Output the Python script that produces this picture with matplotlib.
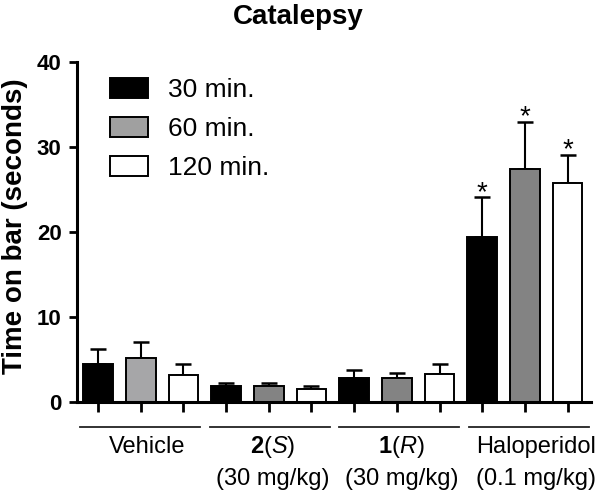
import matplotlib
matplotlib.use("Agg")
import matplotlib.pyplot as plt
from matplotlib.patches import Patch
import numpy as np

plt.rcParams['font.family'] = ['Liberation Sans', 'DejaVu Sans']
plt.rcParams['mathtext.fontset'] = 'custom'
plt.rcParams['mathtext.rm'] = 'Liberation Sans'
plt.rcParams['mathtext.it'] = 'Liberation Sans:italic'
plt.rcParams['mathtext.bf'] = 'Liberation Sans:bold'

# ---- data ----
groups = ["Vehicle", "2(S)", "1(R)", "Haloperidol"]
group_line1 = ["Vehicle", r"$\mathbf{2}\mathrm{(}\mathit{S}\mathrm{)}$",
               r"$\mathbf{1}\mathrm{(}\mathit{R}\mathrm{)}$", "Haloperidol"]
group_line2 = ["", "(30 mg/kg)", "(30 mg/kg)", "(0.1 mg/kg)"]
series = ["30 min.", "60 min.", "120 min."]
mean_30 = [4.4, 1.9, 2.8, 19.4]
mean_60 = [5.2, 1.9, 2.75, 27.4]
mean_120 = [3.2, 1.55, 3.3, 25.8]
top_30 = [6.2, 2.25, 3.7, 24.1]
top_60 = [7.0, 2.25, 3.45, 33.0]
top_120 = [4.4, 1.9, 4.45, 29.1]
signif = [False, False, False, True]
yticks = [0, 10, 20, 30, 40]

# ---- style ----
black = "#000000"
gray_vehicle = "#a6a6a8"
gray_other = "#838383"
gray_legend = "#a0a0a0"
white = "#ffffff"

fig = plt.figure(figsize=(6.0, 4.9), dpi=100)
ax = fig.add_axes([0.128, 0.180, 0.857, 0.693])

means = [mean_30, mean_60, mean_120]
tops = [top_30, top_60, top_120]
width = 0.69
positions = []
for gi in range(len(groups)):
    for si in range(3):
        positions.append(gi * 3 + si)

for si in range(3):
    xs = np.arange(len(groups)) * 3 + si
    if si == 0:
        colors = [black] * len(groups)
    elif si == 1:
        colors = [gray_vehicle] + [gray_other] * (len(groups) - 1)
    else:
        colors = [white] * len(groups)
    m = np.array(means[si])
    t = np.array(tops[si])
    ax.bar(xs, m, width=width, color=colors, edgecolor=black, linewidth=1.4, zorder=2)
    ax.errorbar(xs, m, yerr=[np.zeros_like(m), t - m], fmt='none', ecolor=black,
                elinewidth=1.5, capsize=5.5, capthick=1.8, zorder=1)
    for gi in range(len(groups)):
        if signif[gi]:
            ax.annotate("*", xy=(xs[gi], t[gi]), xytext=(0, -2.0), textcoords='offset points',
                        ha='center', va='baseline', fontsize=20, zorder=4)

ax.set_xlim(-0.5, 11.55)
ax.set_ylim(0, 40)
ax.set_yticks(yticks)
ax.set_yticklabels([str(v) for v in yticks], fontsize=16, fontweight='bold')
ax.set_xticks(positions)
ax.set_xticklabels([])
for s in ['top', 'right']:
    ax.spines[s].set_visible(False)
for s in ['left', 'bottom']:
    ax.spines[s].set_linewidth(2.2)
ax.tick_params(axis='y', direction='out', length=6, width=2, pad=5)
ax.tick_params(axis='x', direction='out', length=7, width=2)

ax.set_ylabel("Time on bar (seconds)", fontsize=20, fontweight='bold')
ax.yaxis.set_label_coords(-0.095, 0.516)

# group lines and labels
trans = ax.get_xaxis_transform()
line_centers = [0.98, 4.02, 7.06, 10.10]
text_centers = [1.16, 4.09, 7.11, 10.27]
for gi in range(len(groups)):
    c = line_centers[gi]
    ax.plot([c - 1.405, c + 1.405], [-0.073, -0.073], transform=trans, color='#222222',
            lw=1.3, clip_on=False)
    ax.text(text_centers[gi], -0.151, group_line1[gi], transform=trans, ha='center',
            va='baseline', fontsize=17)
    if group_line2[gi]:
        ax.text(text_centers[gi], -0.246, group_line2[gi], transform=trans, ha='center',
                va='baseline', fontsize=17)

# legend
handles = [Patch(facecolor=black, edgecolor=black, linewidth=1.4),
           Patch(facecolor=gray_legend, edgecolor=black, linewidth=1.4),
           Patch(facecolor=white, edgecolor=black, linewidth=1.4)]
ax.legend(handles, series, loc='upper left', bbox_to_anchor=(0.065, 0.953),
          frameon=False, fontsize=19, handlelength=1.44, handleheight=0.76,
          handletextpad=0.76, labelspacing=0.57, borderpad=0, borderaxespad=0)

fig.text(0.497, 0.952, "Catalepsy", ha='center', va='baseline', fontsize=20,
         fontweight='bold')

fig.savefig("out.png", dpi=100)
